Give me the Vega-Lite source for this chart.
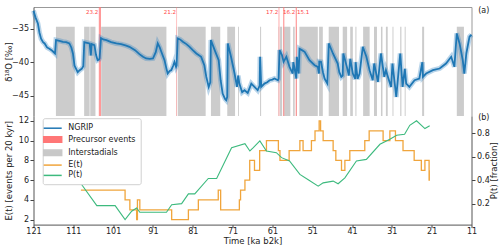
{
  "$schema": "https://vega.github.io/schema/vega-lite/v6.json",
  "padding": {"left": 3.5, "top": 0, "right": 0, "bottom": 0},
  "spacing": -3.5,
  "config": {
    "view": {"stroke": null},
    "font": "DejaVu Sans",
    "axis": {"labelFont": "DejaVu Sans", "titleFont": "DejaVu Sans", "labelFontSize": 8, "titleFontSize": 8.5, "titleFontWeight": "normal", "labelColor": "#222", "titleColor": "#222", "tickColor": "#444", "domainColor": "#555", "grid": false, "tickSize": 3.5, "labelPadding": 1.5, "labelOverlap": false, "labelFlush": false, "labelSeparation": -100, "labelBound": false},
    "axisBottom": {"tickSize": 3, "labelPadding": 0.3}
  },
  "datasets": {
    "gi": [
      {"s": 115.37, "e": 110.64}, {"s": 108.28, "e": 106.9}, {"s": 106.75, "e": 105.44}, {"s": 104.0, "e": 87.62},
      {"s": 85.06, "e": 84.96}, {"s": 84.76, "e": 77.76}, {"s": 76.44, "e": 74.1}, {"s": 72.34, "e": 70.38}, {"s": 69.62, "e": 69.4},
      {"s": 64.1, "e": 63.84}, {"s": 59.44, "e": 59.3}, {"s": 59.08, "e": 58.56}, {"s": 58.28, "e": 58.16}, {"s": 58.04, "e": 56.5},
      {"s": 55.8, "e": 55.4}, {"s": 55.0, "e": 54.86}, {"s": 54.22, "e": 49.6}, {"s": 49.28, "e": 48.34}, {"s": 46.86, "e": 44.28},
      {"s": 43.34, "e": 42.24}, {"s": 41.46, "e": 40.8}, {"s": 40.16, "e": 39.9}, {"s": 38.22, "e": 36.58}, {"s": 35.48, "e": 34.74},
      {"s": 33.74, "e": 33.36}, {"s": 32.5, "e": 32.04}, {"s": 30.84, "e": 30.6}, {"s": 28.9, "e": 28.6}, {"s": 27.78, "e": 27.54},
      {"s": 23.4, "e": 22.9}, {"s": 14.69, "e": 12.9}
    ],
    "pre": [
      {"label": "23.2", "s": 104.6, "e": 104.05, "tl": 104.73},
      {"label": "21.2", "s": 85.1, "e": 84.95, "tl": 85.23},
      {"label": "17.2", "s": 59.45, "e": 59.25, "tl": 59.55},
      {"label": "16.2", "s": 58.3, "e": 58.0, "tl": 55.24},
      {"label": "15.1", "s": 55.15, "e": 54.85, "tl": 51.77}
    ],
    "ngrip": [
      {"t": 121.0, "d": -32.3}, {"t": 120.5, "d": -33.3}, {"t": 119.9, "d": -34.2}, {"t": 119.5, "d": -35.6}, {"t": 119.1, "d": -36.5},
      {"t": 118.6, "d": -37.0}, {"t": 118.2, "d": -37.2}, {"t": 117.6, "d": -37.8}, {"t": 117.0, "d": -38.0}, {"t": 116.3, "d": -38.3},
      {"t": 115.6, "d": -38.7}, {"t": 115.35, "d": -36.7}, {"t": 114.5, "d": -36.8}, {"t": 113.6, "d": -36.95}, {"t": 112.8, "d": -37.0},
      {"t": 112.0, "d": -37.2}, {"t": 111.5, "d": -37.8}, {"t": 111.1, "d": -38.7}, {"t": 110.7, "d": -40.5}, {"t": 110.3, "d": -41.0},
      {"t": 109.9, "d": -41.5}, {"t": 109.4, "d": -41.2}, {"t": 108.9, "d": -41.0}, {"t": 108.5, "d": -40.6}, {"t": 108.25, "d": -37.0},
      {"t": 107.6, "d": -37.1}, {"t": 106.9, "d": -37.2}, {"t": 106.6, "d": -39.0}, {"t": 106.4, "d": -37.3}, {"t": 105.7, "d": -37.45},
      {"t": 105.3, "d": -38.9}, {"t": 104.9, "d": -39.7}, {"t": 104.55, "d": -39.6}, {"t": 104.4, "d": -39.4}, {"t": 104.05, "d": -36.4},
      {"t": 103.5, "d": -36.6}, {"t": 102.7, "d": -36.7}, {"t": 101.5, "d": -37.0}, {"t": 100.2, "d": -37.2}, {"t": 99.0, "d": -37.3},
      {"t": 97.9, "d": -37.5}, {"t": 96.9, "d": -37.7}, {"t": 95.5, "d": -38.2}, {"t": 94.4, "d": -38.8}, {"t": 93.5, "d": -39.2},
      {"t": 92.7, "d": -39.45}, {"t": 91.8, "d": -39.5}, {"t": 91.0, "d": -39.45}, {"t": 90.3, "d": -38.5}, {"t": 89.8, "d": -37.2},
      {"t": 89.3, "d": -37.8}, {"t": 88.9, "d": -38.45}, {"t": 88.1, "d": -39.7}, {"t": 87.6, "d": -41.0}, {"t": 87.3, "d": -41.7},
      {"t": 86.8, "d": -41.3}, {"t": 86.4, "d": -41.2}, {"t": 85.9, "d": -40.5}, {"t": 85.6, "d": -39.95}, {"t": 85.2, "d": -40.7},
      {"t": 85.05, "d": -40.5}, {"t": 84.8, "d": -36.45}, {"t": 84.2, "d": -36.6}, {"t": 83.5, "d": -36.95}, {"t": 82.6, "d": -37.3},
      {"t": 81.8, "d": -37.7}, {"t": 81.0, "d": -38.2}, {"t": 80.1, "d": -38.7}, {"t": 78.9, "d": -39.2}, {"t": 78.1, "d": -40.45},
      {"t": 77.6, "d": -42.2}, {"t": 77.0, "d": -43.7}, {"t": 76.6, "d": -43.0}, {"t": 76.45, "d": -36.7}, {"t": 75.5, "d": -38.2},
      {"t": 74.5, "d": -39.7}, {"t": 74.0, "d": -42.7}, {"t": 73.5, "d": -44.7}, {"t": 72.9, "d": -45.5}, {"t": 72.6, "d": -45.7},
      {"t": 72.35, "d": -45.2}, {"t": 72.2, "d": -37.2}, {"t": 71.4, "d": -39.2}, {"t": 70.5, "d": -41.7}, {"t": 69.9, "d": -43.7},
      {"t": 69.6, "d": -42.0}, {"t": 69.3, "d": -43.2}, {"t": 68.6, "d": -44.5}, {"t": 68.0, "d": -44.2}, {"t": 67.2, "d": -44.6},
      {"t": 66.3, "d": -43.2}, {"t": 65.5, "d": -43.7}, {"t": 64.7, "d": -44.2}, {"t": 64.2, "d": -43.5}, {"t": 64.1, "d": -39.2},
      {"t": 63.8, "d": -43.7}, {"t": 63.0, "d": -43.2}, {"t": 62.3, "d": -43.0}, {"t": 61.7, "d": -42.7}, {"t": 61.0, "d": -42.6},
      {"t": 60.5, "d": -42.45}, {"t": 59.6, "d": -42.7}, {"t": 59.45, "d": -42.5}, {"t": 59.2, "d": -38.2}, {"t": 58.6, "d": -38.95},
      {"t": 58.2, "d": -39.95}, {"t": 57.5, "d": -39.2}, {"t": 56.7, "d": -40.7}, {"t": 55.9, "d": -41.7}, {"t": 55.75, "d": -40.0},
      {"t": 55.5, "d": -40.7}, {"t": 55.0, "d": -42.45}, {"t": 54.85, "d": -39.2}, {"t": 54.4, "d": -41.7}, {"t": 54.2, "d": -38.0},
      {"t": 53.6, "d": -38.2}, {"t": 52.9, "d": -38.45}, {"t": 51.7, "d": -39.7}, {"t": 50.4, "d": -40.45}, {"t": 49.6, "d": -40.7},
      {"t": 49.3, "d": -41.7}, {"t": 49.25, "d": -39.9}, {"t": 48.8, "d": -39.95}, {"t": 48.3, "d": -41.5}, {"t": 47.9, "d": -42.45},
      {"t": 47.2, "d": -43.2}, {"t": 46.85, "d": -37.2}, {"t": 45.8, "d": -38.7}, {"t": 44.6, "d": -40.2}, {"t": 44.2, "d": -41.5},
      {"t": 43.7, "d": -42.2}, {"t": 43.35, "d": -42.0}, {"t": 43.2, "d": -38.7}, {"t": 42.3, "d": -40.7}, {"t": 41.8, "d": -42.0},
      {"t": 41.45, "d": -39.5}, {"t": 40.8, "d": -41.7}, {"t": 40.2, "d": -42.5}, {"t": 40.1, "d": -40.0}, {"t": 39.6, "d": -42.5},
      {"t": 39.1, "d": -41.7}, {"t": 38.3, "d": -37.7}, {"t": 37.4, "d": -39.2}, {"t": 36.6, "d": -41.2}, {"t": 35.8, "d": -42.7},
      {"t": 35.45, "d": -40.2}, {"t": 34.5, "d": -42.95}, {"t": 33.75, "d": -38.7}, {"t": 32.9, "d": -42.2}, {"t": 32.5, "d": -41.2},
      {"t": 31.2, "d": -43.7}, {"t": 30.85, "d": -40.2}, {"t": 29.9, "d": -45.2}, {"t": 28.9, "d": -38.7}, {"t": 28.3, "d": -43.7},
      {"t": 27.75, "d": -41.0}, {"t": 27.4, "d": -43.2}, {"t": 26.6, "d": -43.7}, {"t": 25.3, "d": -42.7}, {"t": 24.1, "d": -42.45},
      {"t": 23.35, "d": -40.0}, {"t": 23.2, "d": -42.2}, {"t": 22.4, "d": -41.7}, {"t": 20.7, "d": -41.2}, {"t": 19.0, "d": -40.95},
      {"t": 17.4, "d": -40.2}, {"t": 16.1, "d": -39.2}, {"t": 15.3, "d": -40.7}, {"t": 14.7, "d": -35.7}, {"t": 14.0, "d": -37.2},
      {"t": 13.2, "d": -39.7}, {"t": 12.8, "d": -41.7}, {"t": 12.3, "d": -38.7}, {"t": 11.5, "d": -36.2}, {"t": 11.0, "d": -35.9}
    ],
    "E": [
      {"t": 21.6, "E": 7}, {"t": 21.65, "E": 6}, {"t": 22.7, "E": 8}, {"t": 23.6, "E": 7}, {"t": 25.4, "E": 8}, {"t": 28.2, "E": 9},
      {"t": 30.1, "E": 10}, {"t": 31.5, "E": 11}, {"t": 33.2, "E": 10}, {"t": 36.7, "E": 11}, {"t": 37.8, "E": 10}, {"t": 41.56, "E": 9},
      {"t": 42.8, "E": 8}, {"t": 43.65, "E": 7}, {"t": 45.07, "E": 8}, {"t": 45.75, "E": 9}, {"t": 48.26, "E": 10}, {"t": 48.9, "E": 11},
      {"t": 49.26, "E": 12}, {"t": 50.3, "E": 11}, {"t": 51.2, "E": 10}, {"t": 53.3, "E": 9}, {"t": 54.1, "E": 10}, {"t": 56.8, "E": 9},
      {"t": 59.1, "E": 8}, {"t": 59.5, "E": 9}, {"t": 62.5, "E": 10}, {"t": 64.2, "E": 9}, {"t": 65.5, "E": 7}, {"t": 66.7, "E": 8},
      {"t": 67.9, "E": 6}, {"t": 69.0, "E": 5}, {"t": 69.3, "E": 4}, {"t": 74.0, "E": 3}, {"t": 74.6, "E": 5}, {"t": 79.6, "E": 4},
      {"t": 82.1, "E": 3}, {"t": 86.3, "E": 2}, {"t": 94.3, "E": 3}, {"t": 94.9, "E": 4}, {"t": 95.1, "E": 2}, {"t": 96.8, "E": 3},
      {"t": 98.0, "E": 4}, {"t": 105.1, "E": 5}, {"t": 109.1, "E": 5}
    ],
    "P": [
      {"t": 109.1, "P": 0.371}, {"t": 105.1, "P": 0.183}, {"t": 100.5, "P": 0.183}, {"t": 98.0, "P": 0.063}, {"t": 96.35, "P": 0.135},
      {"t": 95.1, "P": 0.163}, {"t": 94.3, "P": 0.126}, {"t": 87.6, "P": 0.126}, {"t": 86.3, "P": 0.191}, {"t": 83.8, "P": 0.2},
      {"t": 82.1, "P": 0.283}, {"t": 80.5, "P": 0.283}, {"t": 77.1, "P": 0.414}, {"t": 75.0, "P": 0.414}, {"t": 71.25, "P": 0.677},
      {"t": 67.9, "P": 0.711}, {"t": 66.66, "P": 0.649}, {"t": 65.8, "P": 0.677}, {"t": 64.15, "P": 0.735}, {"t": 62.5, "P": 0.649},
      {"t": 60.0, "P": 0.634}, {"t": 58.7, "P": 0.592}, {"t": 56.7, "P": 0.563}, {"t": 54.1, "P": 0.449}, {"t": 52.1, "P": 0.406},
      {"t": 49.5, "P": 0.349}, {"t": 48.26, "P": 0.377}, {"t": 45.75, "P": 0.392}, {"t": 44.5, "P": 0.369}, {"t": 42.8, "P": 0.42},
      {"t": 39.9, "P": 0.563}, {"t": 37.4, "P": 0.577}, {"t": 34.0, "P": 0.706}, {"t": 31.5, "P": 0.748}, {"t": 29.8, "P": 0.783},
      {"t": 27.8, "P": 0.791}, {"t": 26.5, "P": 0.868}, {"t": 24.8, "P": 0.906}, {"t": 22.7, "P": 0.84}, {"t": 21.5, "P": 0.863}
    ]
  },
  "vconcat": [
    {
      "width": 438,
      "height": 109,
      "layer": [
        {
          "data": {"name": "gi"},
          "mark": {"type": "rect", "fill": "#cccccc"},
          "encoding": {
            "x": {"field": "s", "type": "quantitative", "scale": {"domain": [11, 121], "reverse": true, "nice": false, "zero": false}, "axis": {"orient": "top", "labels": false, "ticks": false, "title": null, "domainColor": "#999"}},
            "x2": {"field": "e"},
            "y": {"datum": -34.7, "type": "quantitative", "scale": {"domain": [-48.05, -31.75], "nice": false, "zero": false}, "axis": {"orient": "left", "values": [-45, -40, -35], "title": "δ¹⁸O [‰]", "titleX": -25.5, "titleY": 54.5, "titleBaseline": "middle", "titleAngle": 270}},
            "y2": {"datum": -48.05},
            "color": {
              "datum": "Interstadials",
              "scale": {"domain": ["NGRIP", "Precursor events", "Interstadials", "E(t)", "P(t)"], "range": ["#1f77b4", "#ff7777", "#c8c8c8", "#f0a53c", "#3dba7e"]},
              "legend": {
                "orient": "none", "legendX": 9.2, "legendY": 111.2, "title": null,
                "fillColor": "white", "strokeColor": "#d0d0d0", "cornerRadius": 2, "padding": 4.5,
                "labelFont": "DejaVu Sans", "labelFontSize": 8, "labelColor": "#222",
                "symbolSize": 81, "labelOffset": 10, "rowPadding": 0.3,
                "encode": {"symbols": {"update": {
                  "shape": {"signal": "(datum.label === 'Precursor events' || datum.label === 'Interstadials') ? 'M-2,-0.6H2V0.6H-2Z' : 'M-2,0H2'"},
                  "fill": {"signal": "(datum.label === 'Precursor events' || datum.label === 'Interstadials') ? scale('color', datum.value) : 'transparent'"},
                  "stroke": {"signal": "(datum.label === 'Precursor events' || datum.label === 'Interstadials') ? 'transparent' : scale('color', datum.value)"},
                  "strokeWidth": {"value": 1.5},
                  "opacity": {"value": 1}
                }}}
              }
            }
          }
        },
        {
          "data": {"name": "pre"},
          "mark": {"type": "rect", "opacity": 0.75},
          "encoding": {
            "x": {"field": "s", "type": "quantitative"},
            "x2": {"field": "e"},
            "y": {"datum": -31.75, "type": "quantitative", "axis": null},
            "y2": {"datum": -48.05},
            "color": {"datum": "Precursor events"}
          }
        },
        {
          "data": {"name": "ngrip"},
          "mark": {"type": "line", "strokeWidth": 5, "opacity": 0.35, "color": "#3a88c4"},
          "encoding": {
            "x": {"field": "t", "type": "quantitative"},
            "y": {"field": "d", "type": "quantitative", "axis": null}
          }
        },
        {
          "data": {"name": "ngrip"},
          "mark": {"type": "line", "strokeWidth": 1.8},
          "encoding": {
            "x": {"field": "t", "type": "quantitative"},
            "y": {"field": "d", "type": "quantitative", "axis": {"orient": "right", "labels": false, "ticks": false, "title": null, "domainColor": "#999"}},
            "color": {"datum": "NGRIP"}
          }
        },
        {
          "data": {"name": "pre"},
          "mark": {"type": "text", "align": "right", "baseline": "middle", "fontSize": 5.5, "color": "#ff4444", "dx": 0},
          "encoding": {
            "x": {"field": "tl", "type": "quantitative"},
            "y": {"datum": -32.5, "type": "quantitative", "axis": null},
            "text": {"field": "label"}
          }
        },
        {
          "data": {"values": [{"lab": "(a)"}]},
          "mark": {"type": "text", "align": "center", "baseline": "middle", "fontSize": 8, "color": "#222", "dx": 12.3},
          "encoding": {
            "x": {"datum": 11, "type": "quantitative"},
            "y": {"datum": -32.3, "type": "quantitative", "axis": null},
            "text": {"field": "lab"}
          }
        }
      ],
      "resolve": {"axis": {"y": "independent"}}
    },
    {
      "width": 438,
      "height": 108.6,
      "layer": [
        {
          "data": {"name": "E"},
          "mark": {"type": "line", "interpolate": "step-after", "strokeWidth": 1.3},
          "encoding": {
            "x": {"field": "t", "type": "quantitative", "scale": {"domain": [11, 121], "reverse": true, "nice": false, "zero": false}, "axis": {"values": [121, 111, 101, 91, 81, 71, 61, 51, 41, 31, 21, 11], "format": "d", "labelOverlap": false, "labelFlush": false, "labelSeparation": -100, "title": "Time [ka b2k]", "titleY": 16.2, "titleBaseline": "middle"}},
            "y": {"field": "E", "type": "quantitative", "scale": {"domain": [1.5, 12.5], "nice": false, "zero": false}, "axis": {"values": [2, 4, 6, 8, 10, 12], "title": "E(t) [events per 20 kyr]", "titleX": -25.5, "titleY": 54.3, "titleBaseline": "middle", "titleAngle": 270}},
            "color": {"datum": "E(t)"}
          }
        },
        {
          "data": {"name": "P"},
          "mark": {"type": "line", "strokeWidth": 1.1},
          "encoding": {
            "x": {"field": "t", "type": "quantitative", "axis": {"values": [121, 111, 101, 91, 81, 71, 61, 51, 41, 31, 21, 11], "format": "d", "labelOverlap": false, "labelFlush": false, "labelSeparation": -100, "title": "Time [ka b2k]", "titleY": 16.2, "titleBaseline": "middle"}},
            "y": {"field": "P", "type": "quantitative", "scale": {"domain": [0.021, 0.947], "nice": false, "zero": false}, "axis": {"orient": "right", "values": [0.2, 0.4, 0.6, 0.8], "format": ".1f", "title": "P(t) [fraction]", "titleX": 22.3, "titleY": 54.3, "titleBaseline": "middle", "titleAngle": 270}},
            "color": {"datum": "P(t)"}
          }
        },
        {
          "data": {"values": [{"lab": "(b)"}]},
          "mark": {"type": "text", "align": "center", "baseline": "middle", "fontSize": 8, "color": "#222", "dx": 12.3},
          "encoding": {
            "x": {"datum": 11, "type": "quantitative", "axis": {"values": [121, 111, 101, 91, 81, 71, 61, 51, 41, 31, 21, 11], "format": "d", "labelOverlap": false, "labelFlush": false, "labelSeparation": -100, "title": "Time [ka b2k]", "titleY": 16.2, "titleBaseline": "middle"}},
            "y": {"datum": 0.926, "type": "quantitative", "scale": {"domain": [0.021, 0.947], "nice": false, "zero": false}, "axis": null},
            "text": {"field": "lab"}
          }
        }
      ],
      "resolve": {"scale": {"y": "independent"}}
    }
  ]
}
